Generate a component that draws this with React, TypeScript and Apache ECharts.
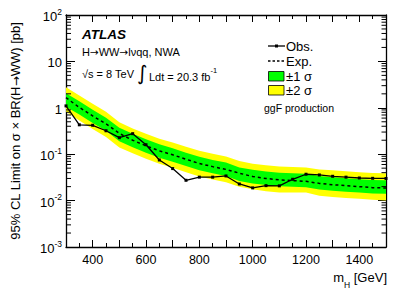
import React, { useEffect, useRef } from "react";
import * as echarts from "echarts";

const masses = [300, 350, 400, 450, 500, 550, 600, 650, 700, 750, 800, 850, 900, 950, 1000, 1050, 1100, 1150, 1200, 1250, 1300, 1350, 1400, 1450, 1500];
const observed = [1.1, 0.43, 0.42, 0.32, 0.227, 0.277, 0.16, 0.075, 0.049, 0.0274, 0.032, 0.032, 0.034, 0.0228, 0.0188, 0.021, 0.0208, 0.0288, 0.037, 0.0357, 0.0334, 0.032, 0.0307, 0.0302, 0.03];
const expected = [1.65, 1.02, 0.67, 0.45, 0.28, 0.2, 0.152, 0.118, 0.097, 0.078, 0.063, 0.054, 0.047, 0.039, 0.033, 0.03, 0.028, 0.027, 0.026, 0.0235, 0.022, 0.021, 0.02, 0.019, 0.0187];
const plus2 = [2.77, 1.85, 1.22, 0.82, 0.49, 0.36, 0.275, 0.215, 0.178, 0.145, 0.118, 0.102, 0.089, 0.071, 0.062, 0.058, 0.054, 0.053, 0.052, 0.047, 0.045, 0.043, 0.041, 0.0395, 0.039];
const plus1 = [2.05, 1.38, 0.91, 0.61, 0.37, 0.275, 0.21, 0.163, 0.134, 0.108, 0.088, 0.075, 0.066, 0.052, 0.046, 0.0425, 0.04, 0.039, 0.038, 0.034, 0.032, 0.0305, 0.029, 0.0278, 0.0273];
const minus1 = [1.06, 0.72, 0.47, 0.32, 0.19, 0.142, 0.108, 0.084, 0.069, 0.056, 0.045, 0.039, 0.034, 0.0265, 0.0235, 0.0218, 0.0204, 0.0198, 0.0195, 0.0173, 0.0163, 0.0156, 0.015, 0.0143, 0.014];
const minus2 = [0.82, 0.53, 0.35, 0.235, 0.14, 0.105, 0.08, 0.062, 0.051, 0.041, 0.033, 0.0285, 0.025, 0.02, 0.0175, 0.016, 0.015, 0.015, 0.015, 0.0128, 0.012, 0.0114, 0.0109, 0.0104, 0.0101];
const xLabelValues = [400, 600, 800, 1000, 1200, 1400];
const yDecades = [0.001, 0.01, 0.1, 1, 10];
const yMinorMultipliers = [2, 3, 4, 5, 6, 7, 8, 9];

const FONT = "Liberation Sans, Arial, Helvetica, sans-serif";
const ARROW_FONT = "DejaVu Sans";

export default function App() {
  const ref = useRef<HTMLDivElement>(null);
  useEffect(() => {
    if (!ref.current) return;
    const chart = echarts.init(ref.current, undefined, { renderer: "svg" });
    const yMinor: number[][] = [];
    yDecades.forEach((d) => yMinorMultipliers.forEach((k) => yMinor.push([masses[0], d * k])));

    const yLabel = (v: number) => {
      const e = Math.round(Math.log10(v));
      if (e === 0) return "{b|1}";
      if (e === 1) return "{b|10}";
      return "{b|10}{s|" + e + "}";
    };

    const axisLineStyle = { color: "#000", width: 1.3 };
    const option: any = {
      animation: false,
      backgroundColor: "#fff",
      textStyle: { fontFamily: FONT },
      grid: { left: 66, top: 15, right: 21, bottom: 48, containLabel: false },
      xAxis: [
        {
          type: "value", min: 300, max: 1500, interval: 100, position: "bottom",
          axisLine: { show: true, onZero: false, lineStyle: axisLineStyle },
          axisTick: { show: true, inside: true, length: 7, lineStyle: { color: "#000", width: 1 } },
          minorTick: { show: true, splitNumber: 2, length: 4, lineStyle: { color: "#000", width: 1 } },
          splitLine: { show: false },
          axisLabel: {
            margin: 6, color: "#000", fontSize: 12.5, fontFamily: FONT,
            formatter: (v: number) => (xLabelValues.indexOf(v) >= 0 ? String(v) : ""),
          },
        },
        {
          type: "value", min: 300, max: 1500, interval: 100, position: "top",
          axisLine: { show: true, onZero: false, lineStyle: axisLineStyle },
          axisTick: { show: true, inside: true, length: 7, lineStyle: { color: "#000", width: 1 } },
          minorTick: { show: true, splitNumber: 2, length: 4, lineStyle: { color: "#000", width: 1 } },
          splitLine: { show: false },
          axisLabel: { show: false },
        },
      ],
      yAxis: [
        {
          type: "log", logBase: 10, min: 0.001, max: 100, splitNumber: 5, position: "left",
          axisLine: { show: true, lineStyle: axisLineStyle },
          axisTick: { show: true, inside: true, length: 9, lineStyle: { color: "#000", width: 1 } },
          splitLine: { show: false },
          axisLabel: {
            margin: 4, color: "#000", fontFamily: FONT, formatter: yLabel,
            rich: {
              b: { fontSize: 13, fontFamily: FONT, color: "#000", lineHeight: 16, verticalAlign: "bottom" },
              s: { fontSize: 8.5, fontFamily: FONT, color: "#000", lineHeight: 16, verticalAlign: "top" },
            },
          },
          name: "{t|95% CL Limit on σ × BR(H}{a|→}{t|WW) [pb]}",
          nameLocation: "middle",
          nameGap: 44,
          nameTextStyle: {
            fontSize: 13, color: "#000", fontFamily: FONT,
            rich: {
              t: { fontSize: 13, color: "#000", fontFamily: FONT },
              a: { fontSize: 12, color: "#000", fontFamily: ARROW_FONT },
            },
          },
        },
        {
          type: "log", logBase: 10, min: 0.001, max: 100, splitNumber: 5, position: "right",
          axisLine: { show: true, lineStyle: axisLineStyle },
          axisTick: { show: true, inside: true, length: 8, lineStyle: { color: "#000", width: 1 } },
          splitLine: { show: false },
          axisLabel: { show: false },
        },
      ],
      series: [
        {
          type: "custom", name: "bands", coordinateSystem: "cartesian2d", xAxisIndex: 0, yAxisIndex: 0,
          data: [[masses[0], expected[0]]], clip: true, z: 1, silent: true,
          renderItem: (_params: any, api: any) => {
            const band = (hi: number[], lo: number[]) => {
              const pts: number[][] = [];
              masses.forEach((m, i) => pts.push(api.coord([m, hi[i]])));
              for (let i = masses.length - 1; i >= 0; i--) pts.push(api.coord([masses[i], lo[i]]));
              return pts;
            };
            return {
              type: "group",
              children: [
                { type: "polygon", shape: { points: band(plus2, minus2) }, style: { fill: "#ffff00", stroke: "none" } },
                { type: "polygon", shape: { points: band(plus1, minus1) }, style: { fill: "#00ff00", stroke: "none" } },
              ],
            };
          },
        },
        {
          type: "line", name: "Exp.", data: masses.map((m, i) => [m, expected[i]]),
          symbol: "none", z: 3, silent: true,
          lineStyle: { color: "#000", width: 1.5, type: [3, 3] },
        },
        {
          type: "line", name: "Obs.", data: masses.map((m, i) => [m, observed[i]]),
          symbol: "rect", symbolSize: 3, z: 4, silent: true,
          lineStyle: { color: "#000", width: 1.3 },
          itemStyle: { color: "#000" },
        },
        {
          type: "custom", name: "minorTicks", coordinateSystem: "cartesian2d", xAxisIndex: 0, yAxisIndex: 0,
          data: yMinor, clip: false, z: 6, silent: true,
          renderItem: (params: any, api: any) => {
            const cs = params.coordSys;
            const y = api.coord([masses[0], api.value(1)])[1];
            const st = { stroke: "#000", lineWidth: 1 };
            return {
              type: "group",
              children: [
                { type: "line", shape: { x1: cs.x, y1: y, x2: cs.x + 5, y2: y }, style: st },
                { type: "line", shape: { x1: cs.x + cs.width - 4.5, y1: y, x2: cs.x + cs.width, y2: y }, style: st },
              ],
            };
          },
        },
      ],
      graphic: [
        { type: "text", left: 82, top: 27, style: { text: "ATLAS", font: "italic bold 13.5px " + FONT, fill: "#000" } },
        {
          type: "text", left: 82, top: 46,
          style: {
            text: "{t|H}{a|→}{t|WW}{a|→}{t|lνqq, NWA}",
            rich: {
              t: { fontSize: 11, fontFamily: FONT, fill: "#000", lineHeight: 14 },
              a: { fontSize: 10.5, fontFamily: ARROW_FONT, fill: "#000", lineHeight: 14 },
            },
          },
        },
        { type: "text", left: 82, top: 68, style: { text: "√s = 8 TeV", font: "11px " + FONT, fill: "#000" } },
        { type: "text", left: 137, top: 63, style: { text: "∫", font: "20px DejaVu Sans", fill: "#000" } },
        {
          type: "text", left: 149, top: 66,
          style: {
            text: "{n|Ldt = 20.3 fb}{s|-1}",
            rich: {
              n: { fontSize: 11, fontFamily: FONT, fill: "#000", lineHeight: 16, verticalAlign: "bottom" },
              s: { fontSize: 7.5, fontFamily: FONT, fill: "#000", lineHeight: 16, verticalAlign: "top" },
            },
          },
        },
        // legend
        { type: "line", shape: { x1: 268, y1: 46, x2: 285, y2: 46 }, style: { stroke: "#000", lineWidth: 1.3 } },
        { type: "rect", shape: { x: 275, y: 44.5, width: 3, height: 3 }, style: { fill: "#000" } },
        { type: "text", x: 286, y: 46, style: { text: "Obs.", font: "13px " + FONT, fill: "#000", verticalAlign: "middle" } },
        { type: "line", shape: { x1: 268, y1: 61, x2: 285, y2: 61 }, style: { stroke: "#000", lineWidth: 1.3, lineDash: [2.5, 2] } },
        { type: "text", x: 286, y: 61, style: { text: "Exp.", font: "13px " + FONT, fill: "#000", verticalAlign: "middle" } },
        { type: "rect", shape: { x: 268.5, y: 71.5, width: 15.5, height: 9.5 }, style: { fill: "#00ff00", stroke: "#000", lineWidth: 0.8 } },
        { type: "text", x: 286, y: 76, style: { text: "±1 σ", font: "13px " + FONT, fill: "#000", verticalAlign: "middle" } },
        { type: "rect", shape: { x: 268.5, y: 85.5, width: 15.5, height: 9.5 }, style: { fill: "#ffff00", stroke: "#000", lineWidth: 0.8 } },
        { type: "text", x: 286, y: 90, style: { text: "±2 σ", font: "13px " + FONT, fill: "#000", verticalAlign: "middle" } },
        { type: "text", x: 264, y: 108, style: { text: "ggF production", font: "10.5px " + FONT, fill: "#000", verticalAlign: "middle" } },
        // x axis title
        {
          type: "text", x: 387, y: 280,
          style: {
            text: "{m|m}{sub|H}{m| [GeV]}", align: "right", verticalAlign: "middle",
            rich: {
              m: { fontSize: 13, fontFamily: FONT, fill: "#000", lineHeight: 18, verticalAlign: "top" },
              sub: { fontSize: 8.5, fontFamily: FONT, fill: "#000", lineHeight: 18, verticalAlign: "bottom" },
            },
          },
        },
      ],
    };
    chart.setOption(option);
    return () => chart.dispose();
  }, []);
  return <div ref={ref} style={{ position: "fixed", left: 0, top: 0, width: 407, height: 295 }} />;
}
